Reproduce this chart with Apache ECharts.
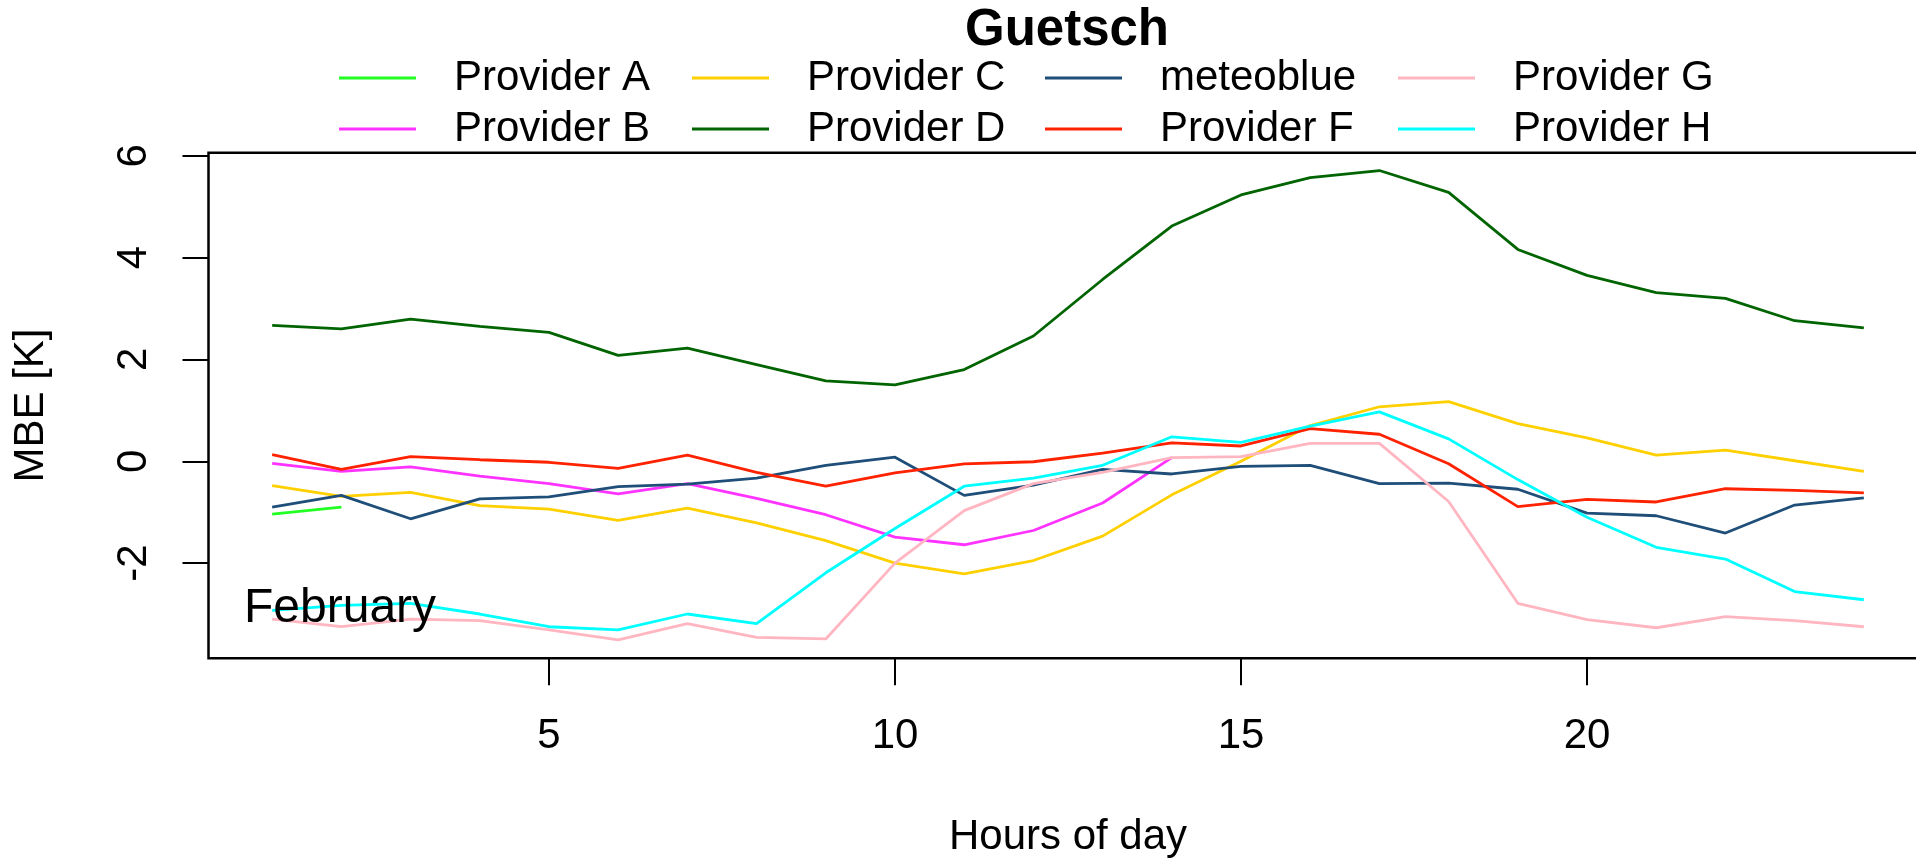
<!DOCTYPE html>
<html>
<head>
<meta charset="utf-8">
<title>Guetsch – MBE by hour of day</title>
<script src="https://cdn.jsdelivr.net/npm/echarts@6/dist/echarts.min.js"></script>
<style>
  html, body { margin: 0; padding: 0; background: #ffffff; }
  #chart { width: 1916px; height: 859px; }
</style>
</head>
<body>
<div id="chart"></div>
<script>
// Hours of day (x values)
const hours = [1, 2, 3, 4, 5, 6, 7, 8, 9, 10, 11, 12, 13, 14, 15, 16, 17, 18, 19, 20, 21, 22, 23, 24];

// Mean bias error [K] per provider and hour (null = no data)
const providerA = [-1.04, -0.90, null, null, null, null, null, null, null, null, null, null,
                   null, null, null, null, null, null, null, null, null, null, null, null];
const providerB = [-0.04, -0.20, -0.11, -0.29, -0.44, -0.64, -0.44, -0.73, -1.05, -1.49, -1.64, -1.36,
                   -0.82, 0.07, null, null, null, null, null, null, null, null, null, null];
const providerC = [-0.48, -0.69, -0.61, -0.87, -0.94, -1.16, -0.92, -1.21, -1.56, -2.00, -2.21, -1.95,
                   -1.47, -0.66, 0.00, 0.70, 1.07, 1.17, 0.74, 0.46, 0.12, 0.22, 0.01, -0.20];
const providerD = [2.67, 2.60, 2.79, 2.65, 2.53, 2.08, 2.22, 1.90, 1.58, 1.50, 1.80, 2.46,
                   3.57, 4.62, 5.23, 5.57, 5.71, 5.28, 4.16, 3.65, 3.31, 3.20, 2.76, 2.62];
const meteoblue = [-0.90, -0.67, -1.13, -0.74, -0.70, -0.50, -0.45, -0.33, -0.08, 0.08, -0.67, -0.47,
                   -0.16, -0.25, -0.10, -0.08, -0.44, -0.43, -0.55, -1.02, -1.07, -1.41, -0.86, -0.72];
const providerF = [0.13, -0.16, 0.09, 0.03, -0.02, -0.14, 0.12, -0.22, -0.49, -0.23, -0.05, -0.01,
                   0.16, 0.36, 0.30, 0.64, 0.53, -0.05, -0.89, -0.75, -0.80, -0.54, -0.57, -0.62];
const providerG = [-3.10, -3.25, -3.10, -3.13, -3.31, -3.51, -3.19, -3.46, -3.49, -2.00, -0.97, -0.44,
                   -0.22, 0.07, 0.09, 0.35, 0.35, -0.79, -2.79, -3.11, -3.27, -3.05, -3.13, -3.25];
const providerH = [-2.93, -2.83, -2.79, -3.00, -3.25, -3.31, -3.00, -3.19, -2.19, -1.32, -0.49, -0.33,
                   -0.08, 0.48, 0.37, 0.69, 0.97, 0.44, -0.36, -1.10, -1.69, -1.92, -2.56, -2.72];

// Axis tick values
const xTicks = [5, 10, 15, 20];
const yTicks = [-2, 0, 2, 4, 6];

// Series names and colours, in drawing / legend order
const seriesNames = ['Provider A', 'Provider B', 'Provider C', 'Provider D',
                     'meteoblue', 'Provider F', 'Provider G', 'Provider H'];
const seriesValues = [providerA, providerB, providerC, providerD,
                      meteoblue, providerF, providerG, providerH];
const seriesColors = ['#22ff22', '#ff33ff', '#ffd000', '#006400',
                      '#1f4e79', '#ff2200', '#ffb6c1', '#00ffff'];

const FONT = "'Liberation Sans', Arial, Helvetica, sans-serif";

const series = seriesNames.map((name, i) => ({
  name: name,
  type: 'line',
  data: hours.map((h, k) => [h, seriesValues[i][k]]),
  showSymbol: false,
  symbol: 'none',
  connectNulls: false,
  clip: true,
  lineStyle: { color: seriesColors[i], width: 2.8 },
  itemStyle: { color: seriesColors[i] },
  emphasis: { disabled: true },
  z: 2 + i
}));

// Legend in four columns of two entries each
const legendColumns = [
  { left: 339, names: ['Provider A', 'Provider B'] },
  { left: 692, names: ['Provider C', 'Provider D'] },
  { left: 1045, names: ['meteoblue', 'Provider F'] },
  { left: 1398, names: ['Provider G', 'Provider H'] }
];
const legends = legendColumns.map(col => ({
  orient: 'vertical',
  left: col.left,
  top: 53,
  padding: 0,
  itemGap: 1,
  itemWidth: 77,
  itemHeight: 3,
  icon: 'rect',
  selectedMode: false,
  data: col.names,
  textStyle: {
    fontFamily: FONT,
    fontSize: 42,
    color: '#000',
    lineHeight: 50,
    padding: [0, 0, 0, 33]
  }
}));

const chart = echarts.init(document.getElementById('chart'), null, { renderer: 'canvas' });

chart.setOption({
  backgroundColor: '#ffffff',
  animation: false,
  title: {
    text: 'Guetsch',
    left: 1067,
    top: 5,
    padding: 0,
    textAlign: 'center',
    textStyle: { fontFamily: FONT, fontWeight: 'bold', fontSize: 51, color: '#000' }
  },
  legend: legends,
  grid: {
    left: 208.5,
    top: 152.7,
    width: 1719,
    height: 505.6,
    show: true,
    borderColor: '#000',
    borderWidth: 2.5,
    backgroundColor: 'transparent',
    containLabel: false,
    outerBoundsMode: 'none'
  },
  xAxis: {
    type: 'value',
    min: 0.08,
    max: 24.92,
    name: 'Hours of day',
    nameLocation: 'middle',
    nameGap: 158,
    nameTextStyle: { fontFamily: FONT, fontSize: 42, color: '#000' },
    axisLine: { show: false, onZero: false },
    axisTick: {
      show: true,
      length: 27,
      customValues: xTicks,
      lineStyle: { color: '#000', width: 2 }
    },
    axisLabel: {
      show: true,
      customValues: xTicks,
      margin: 57,
      fontFamily: FONT,
      fontSize: 42,
      color: '#000'
    },
    splitLine: { show: false }
  },
  yAxis: {
    type: 'value',
    min: -3.87,
    max: 6.06,
    name: 'MBE [K]',
    nameLocation: 'middle',
    nameGap: 156,
    nameTextStyle: { fontFamily: FONT, fontSize: 42, color: '#000' },
    axisLine: { show: false, onZero: false },
    axisTick: {
      show: true,
      length: 26,
      customValues: yTicks,
      lineStyle: { color: '#000', width: 2 }
    },
    axisLabel: {
      show: true,
      customValues: yTicks,
      rotate: 90,
      margin: 53,
      fontFamily: FONT,
      fontSize: 42,
      color: '#000'
    },
    splitLine: { show: false }
  },
  graphic: [
    {
      type: 'text',
      left: 244,
      top: 585,
      z: 100,
      style: {
        text: 'February',
        fontFamily: FONT,
        fontSize: 48,
        fill: '#000'
      }
    }
  ],
  series: series
});
</script>
</body>
</html>
